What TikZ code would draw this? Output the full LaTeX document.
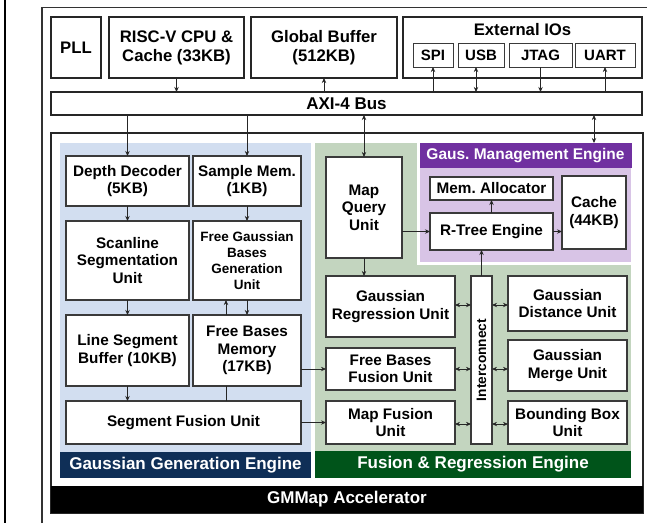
\documentclass[tikz,border=0pt]{standalone}
\usepackage{fontspec}
\setmainfont{Liberation Sans}
\frenchspacing
\usetikzlibrary{arrows.meta,calc}
\definecolor{bluefill}{HTML}{D2DEF0}
\definecolor{greenfill}{HTML}{C3D5BF}
\definecolor{purplefill}{HTML}{D8C4E6}
\definecolor{navyhdr}{HTML}{0F2F57}
\definecolor{greenhdr}{HTML}{00541A}
\definecolor{purplehdr}{HTML}{7030A0}
\definecolor{edge}{HTML}{3A3A3A}
\tikzset{
  unit/.style={draw=edge, line width=1.1pt, fill=white, inner sep=0pt, outer sep=0pt, align=center,
    font=\fontsize{15.3}{17.5}\selectfont\bfseries\frenchspacing},
  topbox/.style={draw=black!85, line width=1.8pt, fill=white, inner sep=0pt, outer sep=0pt, align=center,
    font=\fontsize{16.7}{19}\selectfont\bfseries},
  iobox/.style={draw=edge, line width=1pt, fill=white, inner sep=0pt, outer sep=0pt,
    font=\fontsize{15}{17}\selectfont\bfseries},
  hdr/.style={inner sep=0pt, outer sep=0pt, text=white, font=\fontsize{17}{19}\selectfont\bfseries\frenchspacing},
  arr/.style={draw=black!85, line width=0.9pt, -{Stealth[length=5pt,width=4.4pt]}},
  darr/.style={draw=black!85, line width=0.9pt, {Stealth[length=5pt,width=4.4pt]}-{Stealth[length=5pt,width=4.4pt]}},
  plain/.style={draw=black!85, line width=0.9pt},
}
\begin{document}
\begin{tikzpicture}[x=1pt,y=-1pt]
\useasboundingbox (0,0) rectangle (647,523);
\fill[white] (0,0) rectangle (647,523);
% frame lines
\draw[black, line width=2.5pt] (5,0) -- (5,523);
\draw[black!80, line width=1.4pt] (42,523) -- (42,7.5) -- (647,7.5);

% top row
\node[topbox, minimum width=50pt, minimum height=61pt] (pll) at (76,47.5) {PLL};
\node[topbox, minimum width=135pt, minimum height=61pt] (cpu) at (176.5,47.5) {RISC-V CPU \&\\Cache (33KB)};
\node[topbox, minimum width=146pt, minimum height=61pt] (gbuf) at (324,47.5) {Global Buffer\\(512KB)};
\node[topbox, minimum width=239pt, minimum height=61pt] (eio) at (522.5,47.5) {};
\node[font=\fontsize{16.7}{19}\selectfont\bfseries, inner sep=0pt] (eiot) at (522.5,30) {External IOs};
\node[iobox, minimum width=40pt, minimum height=24pt] (spi) at (433,55) {SPI};
\node[iobox, minimum width=46pt, minimum height=24pt] (usb) at (481,55) {USB};
\node[iobox, minimum width=63pt, minimum height=24pt] (jtag) at (540.5,55) {JTAG};
\node[iobox, minimum width=60pt, minimum height=24pt] (uart) at (605,55) {UART};

% bus
\node[topbox, line width=1.5pt, minimum width=591pt, minimum height=23pt, font=\fontsize{17}{19}\selectfont\bfseries] (bus) at (346.5,103.5) {AXI-4 Bus};

\draw[arr] (cpu.south) -- (cpu.south |- bus.north);
\draw[arr] (gbuf.south |- bus.north) -- (gbuf.south);
\draw[arr] (spi.south |- bus.north) -- (spi.south);
\coordinate (usbp) at ([xshift=-5pt]usb.south);
\draw[darr] (usbp |- bus.north) -- (usbp);
\draw[arr] (jtag.south) -- (jtag.south |- bus.north);
\draw[arr] (uart.south |- bus.north) -- (uart.south);

% accelerator box
\draw[black!85, line width=1.5pt, fill=white] (51,133) rectangle (643,513);
\node[hdr, fill=black, minimum width=592pt, minimum height=27pt] (acc) at (347,499.5) {GMMap Accelerator};

% regions
\fill[bluefill] (60,143) rectangle (311,478);
\fill[greenfill] (315,143) rectangle (631,478);
\filldraw[fill=purplefill, draw=white, line width=3pt] (418,141.5) rectangle (632.5,263.5);
\node[hdr, fill=navyhdr, minimum width=251pt, minimum height=26pt] (gge) at (185.5,465) {Gaussian Generation Engine};
\node[hdr, fill=greenhdr, minimum width=316pt, minimum height=27pt] (fre) at (473,464.5) {Fusion \& Regression Engine};
\node[hdr, fill=purplehdr, minimum width=212pt, minimum height=25pt, font=\fontsize{15.5}{18}\selectfont\bfseries\frenchspacing] (gme) at (525.5,155.5) {Gaus. Management Engine};

% generation engine
\node[unit, minimum width=123pt, minimum height=50pt] (dd) at (127.5,181) {Depth Decoder\\(5KB)};
\node[unit, minimum width=108pt, minimum height=50pt] (smem) at (247,181) {Sample Mem.\\(1KB)};
\node[unit, minimum width=123pt, minimum height=79pt] (scan) at (127.5,260.5) {Scanline\\Segmentation\\Unit};
\node[unit, minimum width=108pt, minimum height=79pt, font=\fontsize{13.5}{16}\selectfont\bfseries] (fgbg) at (247,260.5) {Free Gaussian\\Bases\\Generation\\Unit};
\node[unit, minimum width=123pt, minimum height=71pt] (lsb) at (127.5,350.5) {Line Segment\\Buffer (10KB)};
\node[unit, minimum width=108pt, minimum height=71pt] (fbm) at (247,350.5) {Free Bases\\Memory\\(17KB)};
\node[unit, minimum width=235pt, minimum height=43pt] (sfu) at (183.5,422.5) {Segment Fusion Unit};

\draw[arr] (dd.north |- bus.south) -- (dd.north);
\draw[arr] (smem.north |- bus.south) -- (smem.north);
\draw[arr] (dd.south) -- (scan.north);
\draw[arr] (smem.south) -- (fgbg.north);
\draw[arr] (scan.south) -- (lsb.north);
\draw[arr] (fgbg.south) -- (fbm.north);
\coordinate (fbl) at ([xshift=-21pt]fbm.north);
\draw[arr] (fbl) -- (fbl |- fgbg.south);
\coordinate (fbb) at ([xshift=-21pt]fbm.south);
\draw[plain] (fbb) -- (fbb |- sfu.north);
\draw[arr] (lsb.south) -- (lsb.south |- sfu.north);

% fusion & regression engine
\node[unit, minimum width=76pt, minimum height=101pt] (mq) at (364,207.5) {Map\\Query\\Unit};
\node[unit, minimum width=129pt, minimum height=61pt] (gru) at (390.5,306.5) {Gaussian\\Regression Unit};
\node[unit, minimum width=129pt, minimum height=42pt] (fbfu) at (390.5,369) {Free Bases\\Fusion Unit};
\node[unit, minimum width=129pt, minimum height=43pt] (mfu) at (390.5,422.5) {Map Fusion\\Unit};
\node[unit, minimum width=21pt, minimum height=168pt] (ic) at (481.5,360) {};
\node[rotate=90, inner sep=0pt, font=\fontsize{13.7}{16}\selectfont\bfseries] (ict) at (ic.center) {Interconnect};
\node[unit, minimum width=119pt, minimum height=55pt] (gdu) at (567.5,303.5) {Gaussian\\Distance Unit};
\node[unit, minimum width=119pt, minimum height=51pt] (gmu) at (567.5,365.5) {Gaussian\\Merge Unit};
\node[unit, minimum width=119pt, minimum height=43pt] (bbu) at (567.5,422.5) {Bounding Box\\Unit};

% management engine
\node[unit, minimum width=123pt, minimum height=23pt] (ma) at (491.5,188.5) {Mem. Allocator};
\node[unit, minimum width=123pt, minimum height=37pt] (rte) at (491.5,231.5) {R-Tree Engine};
\node[unit, minimum width=64pt, minimum height=73pt] (cache) at (594,212.5) {Cache\\(44KB)};

\draw[darr] (mq.north |- bus.south) -- (mq.north);
\draw[darr] (cache.north |- bus.south) -- (cache.north |- gme.north);
\draw[arr] (mq.south) -- (mq.south |- gru.north);
\draw[arr] (mq.east |- rte.west) -- (rte.west);
\draw[arr] (rte.north) -- (ma.south);
\draw[arr] (rte.east) -- (rte.east -| cache.west);
\draw[arr] (ic.north) -- (ic.north |- rte.south);

\draw[arr] (fbm.east |- fbfu.west) -- (fbfu.west);
\draw[arr] (sfu.east) -- (mfu.west);

\coordinate (r1) at (0,305);
\coordinate (r2) at (0,369);
\coordinate (r3) at (0,424);
\draw[darr] (gru.east |- r1) -- (ic.west |- r1);
\draw[darr] (fbfu.east |- r2) -- (ic.west |- r2);
\draw[darr] (mfu.east |- r3) -- (ic.west |- r3);
\draw[darr] (ic.east |- r1) -- (gdu.west |- r1);
\draw[darr] (ic.east |- r2) -- (gmu.west |- r2);
\draw[darr] (ic.east |- r3) -- (bbu.west |- r3);
\end{tikzpicture}
\end{document}
